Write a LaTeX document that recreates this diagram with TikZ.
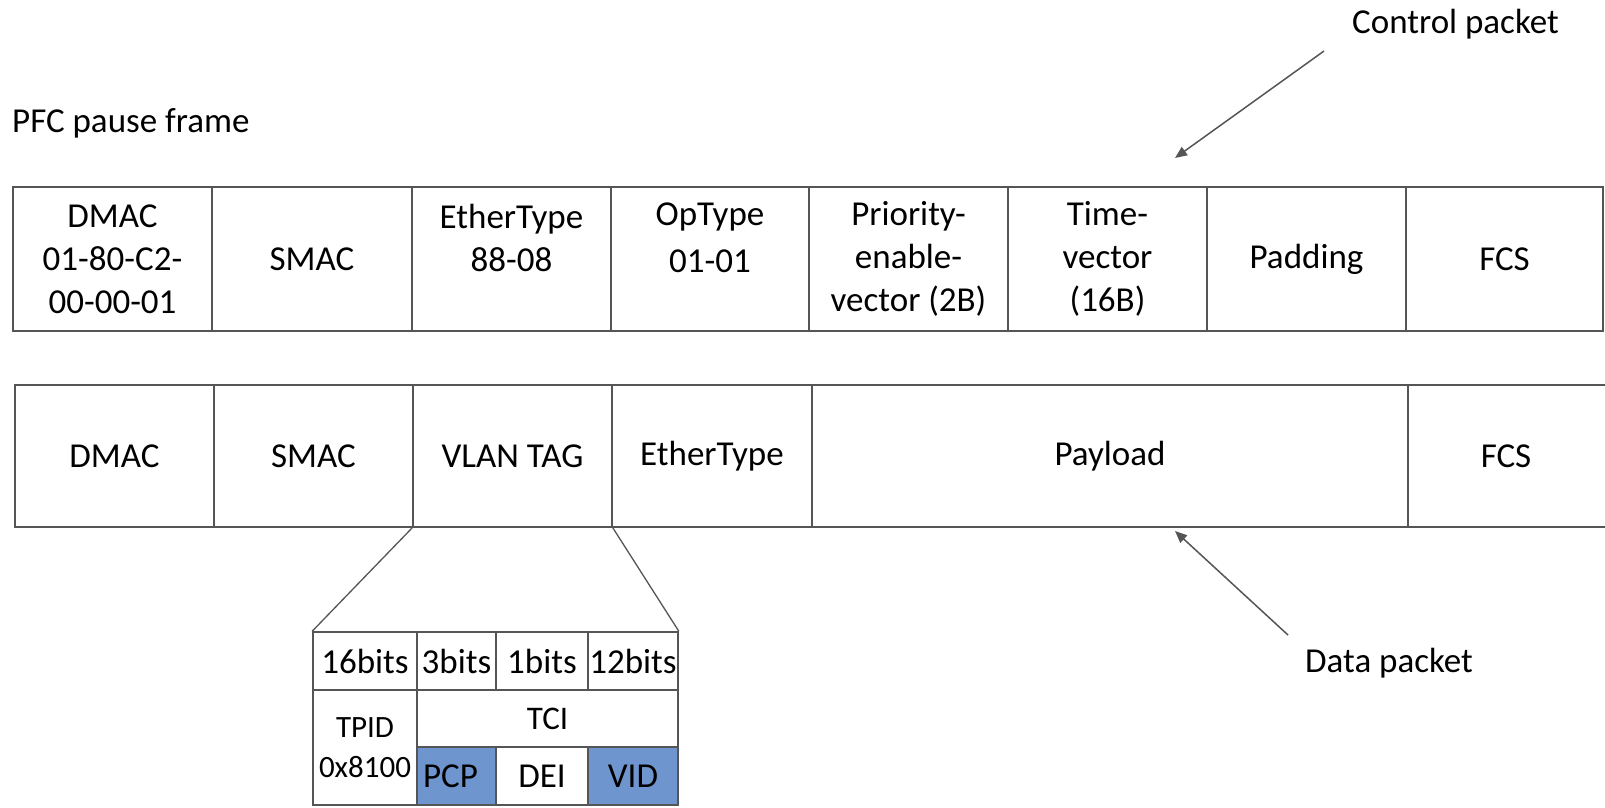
\documentclass[tikz,border=0pt]{standalone}
\usepackage{fontspec}
\setmainfont{Carlito}
\usetikzlibrary{arrows.meta}
\definecolor{lin}{RGB}{85,85,85}
\definecolor{pblue}{RGB}{111,149,207}
\tikzset{
  cellbox/.style={draw=lin, line width=1.6pt, inner sep=0pt, align=center,
    font=\fontsize{35}{43}\selectfont},
  lbl/.style={inner sep=0pt, font=\fontsize{35}{43}\selectfont},
  ptr/.style={draw=lin, line width=1.5pt, -{Triangle[length=12pt,width=10pt]}},
  fan/.style={draw=lin, line width=1.3pt}
}
% \fcell[style]{name}{x1}{y1}{x2}{y2}{text}
\newcommand\fcell[7][]{%
  \node[cellbox,#1, minimum width={#5-#3}, minimum height={#6-#4}]
    (#2) at ({(#3+#5)/2},{(#4+#6)/2}) {#7};}
\begin{document}
\begin{tikzpicture}[x=1pt,y=-1pt]
\useasboundingbox (0,0) rectangle (1605,807);
\clip (0,0) rectangle (1605,807);
% title
\node[lbl, anchor=base west] (title) at (12,132) {PFC pause frame};
% control frame
\fcell{c1}{13}{187}{212}{331}{DMAC\\01-80-C2-\\00-00-01}
\fcell{c2}{212}{187}{412}{331}{SMAC}
\fcell{c3}{412}{187}{611}{331}{EtherType\\88-08\\\mbox{}}
\fcell{c4}{611}{187}{809}{331}{\raisebox{4pt}{OpType}\\01-01\\\mbox{}}
\fcell{c5}{809}{187}{1008}{331}{Priority-\\enable-\\vector (2B)}
\fcell{c6}{1008}{187}{1207}{331}{Time-\\vector\\(16B)}
\fcell{c7}{1207}{187}{1406}{331}{Padding}
\fcell{c8}{1406}{187}{1603}{331}{FCS}
% data frame
\fcell{d1}{15}{385}{214}{527}{DMAC}
\fcell{d2}{214}{385}{413}{527}{SMAC}
\fcell{d3}{413}{385}{612}{527}{VLAN TAG}
\fcell{d4}{612}{385}{812}{527}{EtherType}
\fcell{d5}{812}{385}{1408}{527}{Payload}
\fcell{d6}{1408}{385}{1612}{527}{\hspace*{-8pt}FCS}
% VLAN tag detail
\fcell{b16}{313}{632}{417}{690}{16bits}
\fcell{b3}{417}{632}{496}{690}{3bits}
\fcell{b1}{496}{632}{588}{690}{1bits}
\fcell{b12}{588}{632}{678}{690}{12bits}
\fcell[font=\fontsize{31}{40}\selectfont]{tpid}{313}{690}{417}{805}{TPID\\0x8100}
\fcell[font=\fontsize{33}{40}\selectfont]{tci}{417}{690}{678}{747}{TCI}
\fcell[fill=pblue]{pcp}{417}{747}{496}{805}{\hspace*{-12pt}PCP}
\fcell{dei}{496}{747}{588}{805}{\raisebox{-3pt}{DEI}}
\fcell[fill=pblue]{vid}{588}{747}{678}{805}{VID}
\draw[fan] (d3.south west) -- (b16.north west);
\draw[fan] (d3.south east) -- (b12.north east);
% pointers
\node[lbl, anchor=base west] (ctl) at (1352,33) {Control packet};
\node[lbl, anchor=base west] (dat) at (1305,672) {Data packet};
\coordinate (ctlstart) at (1324,51);
\coordinate (ctlend) at (1175,158);
\coordinate (datstart) at (1288,635);
\coordinate (datend) at (1175,531);
\draw[ptr] (ctlstart) -- (ctlend);
\draw[ptr] (datstart) -- (datend);
\end{tikzpicture}
\end{document}
